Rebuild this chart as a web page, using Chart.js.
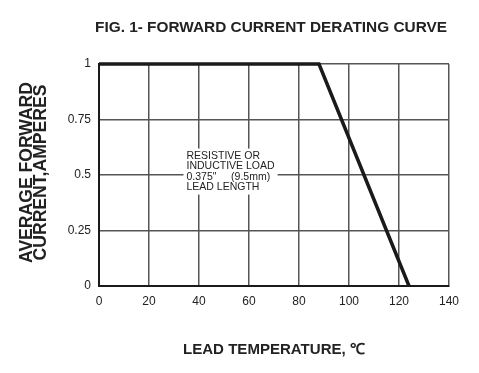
<!DOCTYPE html>
<html><head><meta charset="utf-8">
<script src="https://cdn.jsdelivr.net/npm/chart.js@4/dist/chart.umd.min.js"></script>
<style>html,body{margin:0;padding:0;background:#fff}#w{width:479px;height:373px;position:relative}</style>
</head><body><div id="w"><canvas id="c" width="479" height="373"></canvas></div>
<script>
const temps = [0, 88, 124];
const current = [1, 1, 0];
const xTicks = [0, 20, 40, 60, 80, 100, 120, 140];
const yTicks = [0, 0.25, 0.5, 0.75, 1];
const titleText = 'FIG. 1- FORWARD CURRENT DERATING CURVE';
const xTitle = 'LEAD TEMPERATURE, \u2103';
const yTitle = ['AVERAGE FORWARD', 'CURRENT,AMPERES'];
const noteLines = ['RESISTIVE OR', 'INDUCTIVE LOAD', '0.375"     (9.5mm)', 'LEAD LENGTH'];
const noteAt = {x: 35, y: 0.61};

const FONT = '"Liberation Sans", Arial, sans-serif';

function fitText(ctx, text, x, y, width) {
  const w = ctx.measureText(text).width;
  ctx.save();
  ctx.translate(x, y);
  ctx.scale(width / w, 1);
  ctx.fillText(text, 0, 0);
  ctx.restore();
}

const textPlugin = {
  id: 'texts',
  beforeDatasetsDraw(chart) {
    const ctx = chart.ctx, xs = chart.scales.x, ys = chart.scales.y;
    const px = xs.getPixelForValue(noteAt.x), py = ys.getPixelForValue(noteAt.y);
    ctx.save();
    ctx.font = '10.5px ' + FONT;
    let w = 0; noteLines.forEach(l => w = Math.max(w, ctx.measureText(l).width));
    ctx.fillStyle = '#fff';
    ctx.fillRect(px - 3, py - 2, w + 6, noteLines.length * 10.5 + 4);
    ctx.fillStyle = '#222';
    ctx.textBaseline = 'top';
    noteLines.forEach((l, i) => ctx.fillText(l, px, py + i * 10.5));
    ctx.restore();
  },
  afterDraw(chart) {
    const ctx = chart.ctx, a = chart.chartArea;
    ctx.save();
    ctx.fillStyle = '#222';
    ctx.textAlign = 'center';
    ctx.textBaseline = 'middle';
    ctx.font = 'bold 15px ' + FONT;
    fitText(ctx, titleText, 271, 28, 352);
    ctx.font = 'bold 15px ' + FONT;
    fitText(ctx, xTitle, (a.left + a.right) / 2, 350, 182);
    ctx.font = 'bold 18px ' + FONT;
    ctx.translate(0, 172.5);
    ctx.rotate(-Math.PI / 2);
    fitText(ctx, yTitle[0], 0, 27, 181);
    fitText(ctx, yTitle[1], 0, 41, 176);
    ctx.restore();
  }
};

new Chart(document.getElementById('c'), {
  type: 'line',
  data: {
    datasets: [{
      data: temps.map((t, i) => ({x: t, y: current[i]})),
      borderColor: '#1a1a1a',
      borderWidth: 3.5,
      pointRadius: 0,
      tension: 0,
      clip: false
    }]
  },
  options: {
    responsive: false,
    animation: false,
    events: [],
    layout: {padding: {left: 0, top: 64, right: 30, bottom: 0}},
    plugins: {legend: {display: false}, tooltip: {enabled: false}, title: {display: false}},
    scales: {
      x: {
        type: 'linear', min: 0, max: 140,
        afterBuildTicks: s => { s.ticks = xTicks.map(v => ({value: v})); },
        afterFit: s => { s.height = 87; },
        grid: {color: '#555', lineWidth: 1.5, drawTicks: false},
        border: {color: '#1a1a1a', width: 2},
        ticks: {color: '#222', font: {family: FONT, size: 12}, padding: 8, maxRotation: 0}
      },
      y: {
        type: 'linear', min: 0, max: 1,
        afterBuildTicks: s => { s.ticks = yTicks.map(v => ({value: v})); },
        afterFit: s => { s.width = 99; },
        grid: {color: '#555', lineWidth: 1.5, drawTicks: false},
        border: {color: '#1a1a1a', width: 2},
        ticks: {color: '#222', font: {family: FONT, size: 12}, padding: 8, callback: v => String(v)}
      }
    }
  },
  plugins: [textPlugin]
});
</script></body></html>
